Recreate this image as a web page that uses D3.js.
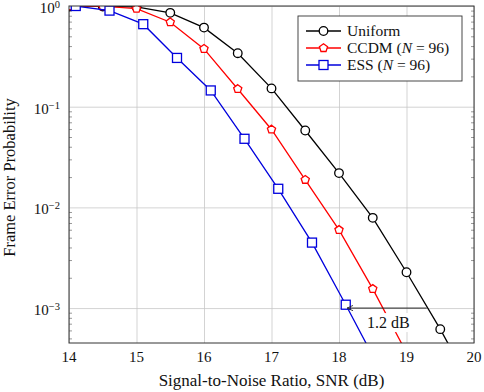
<!DOCTYPE html>
<html>
<head>
<meta charset="utf-8">
<script src="https://cdn.jsdelivr.net/npm/d3@7"></script>
<style>
  body { margin: 0; background: #fff; }
  svg text { font-family: "Liberation Serif", "DejaVu Serif", serif; fill: #111; }
</style>
</head>
<body>
<div id="chart"></div>
<script>
// SNR points (dB)
const snrUniform = [14, 14.5, 15, 15.5, 16, 16.5, 17, 17.5, 18, 18.5, 19, 19.5, 20];
const ferUniform = [0.99, 0.99, 0.98, 0.855, 0.61, 0.34, 0.152, 0.058, 0.0219, 0.00787, 0.00227, 0.000618, 0.00015];

const snrCcdm = [14, 14.5, 15, 15.5, 16, 16.5, 17, 17.5, 18, 18.5, 19];
const ferCcdm = [0.995, 0.995, 0.94, 0.69, 0.375, 0.15, 0.0594, 0.0188, 0.00597, 0.00155, 0.00036];

const snrEss = [14.1, 14.6, 15.1, 15.6, 16.1, 16.6, 17.1, 17.6, 18.1, 18.6];
const ferEss = [1.0, 0.9, 0.66, 0.305, 0.145, 0.048, 0.0153, 0.00447, 0.00108, 0.00025];

const xTicks = [14, 15, 16, 17, 18, 19, 20];
const yTicks = [1, 0.1, 0.01, 0.001];
const yExponents = ["0", "\u22121", "\u22122", "\u22123"];

const series = [
    { name: "Uniform", x: snrUniform, y: ferUniform, color: "#000000", marker: "circle" },
    { name: "CCDM", x: snrCcdm, y: ferCcdm, color: "#ff0000", marker: "pentagon" },
    { name: "ESS", x: snrEss, y: ferEss, color: "#0000dd", marker: "square" }
];

const width = 484, height = 392;
const margin = { left: 69, right: 10, top: 6, bottom: 49 };
const w = width - margin.left - margin.right;
const h = height - margin.top - margin.bottom;

const svg = d3.select("#chart").append("svg")
    .attr("width", width)
    .attr("height", height);

const plot = svg.append("g")
    .attr("transform", `translate(${margin.left},${margin.top})`);

const xScale = d3.scaleLinear().domain([14, 20]).range([0, w]);
const yScale = d3.scaleLog().domain([4.5e-4, 1]).range([h, 0]);

plot.append("clipPath").attr("id", "clip")
    .append("rect").attr("width", w).attr("height", h);

// grid
plot.append("g")
    .attr("transform", `translate(0,${h})`)
    .call(d3.axisBottom(xScale).tickValues(xTicks).tickSize(-h).tickFormat(""))
    .call(g => g.select(".domain").remove())
    .selectAll("line").attr("stroke", "#c8c8c8").attr("stroke-width", 0.8);

plot.append("g")
    .call(d3.axisLeft(yScale).tickValues(yTicks).tickSize(-w).tickFormat(""))
    .call(g => g.select(".domain").remove())
    .selectAll("line").attr("stroke", "#c8c8c8").attr("stroke-width", 0.8);

// minor ticks on y (inside, both sides)
const minor = [];
for (let e = -4; e <= 0; e++) {
    for (let m = 2; m <= 9; m++) {
        const v = m * Math.pow(10, e);
        if (v >= 4.5e-4 && v <= 1) minor.push(v);
    }
}
plot.append("g")
    .call(d3.axisLeft(yScale).tickValues(minor).tickSize(-3).tickFormat(""))
    .call(g => g.select(".domain").remove())
    .selectAll("line").attr("stroke", "#555").attr("stroke-width", 0.6);
plot.append("g")
    .attr("transform", `translate(${w},0)`)
    .call(d3.axisRight(yScale).tickValues(minor).tickSize(-3).tickFormat(""))
    .call(g => g.select(".domain").remove())
    .selectAll("line").attr("stroke", "#555").attr("stroke-width", 0.6);

// tick labels
plot.append("g").selectAll("text")
    .data(xTicks).join("text")
    .attr("x", d => xScale(d))
    .attr("y", h + 19)
    .attr("text-anchor", "middle")
    .style("font-size", "15px")
    .text(d => d);

const yLab = plot.append("g").selectAll("text")
    .data(yTicks).join("text")
    .attr("x", -9)
    .attr("y", d => yScale(d) + 7)
    .attr("text-anchor", "end")
    .style("font-size", "15px");
yLab.append("tspan").text("10");
yLab.append("tspan")
    .attr("dy", -5)
    .style("font-size", "10.5px")
    .text((d, i) => yExponents[i]);

// series
const lines = plot.append("g").attr("clip-path", "url(#clip)");
const lineGen = d3.line().x(d => xScale(d[0])).y(d => yScale(d[1]));

function pentagon(r) {
    const pts = [];
    for (let i = 0; i < 5; i++) {
        const a = -Math.PI / 2 + i * 2 * Math.PI / 5;
        pts.push([r * Math.cos(a), r * Math.sin(a)]);
    }
    return "M" + pts.map(p => p.join(",")).join("L") + "Z";
}

function drawMarker(g, type, color) {
    if (type === "circle") {
        g.append("circle").attr("r", 4.3);
    } else if (type === "pentagon") {
        g.append("path").attr("d", pentagon(4.3));
    } else {
        g.append("rect").attr("x", -4.5).attr("y", -4.5).attr("width", 9).attr("height", 9);
    }
    g.selectAll("*").attr("fill", "#fff").attr("stroke", color).attr("stroke-width", 1.3);
}

series.forEach(s => {
    const pts = s.x.map((x, i) => [x, s.y[i]]);
    lines.append("path")
        .datum(pts)
        .attr("fill", "none")
        .attr("stroke", s.color)
        .attr("stroke-width", 1.3)
        .attr("d", lineGen);
    lines.selectAll(null)
        .data(pts).join("g")
        .attr("transform", d => `translate(${xScale(d[0])},${yScale(d[1])})`)
        .each(function () { drawMarker(d3.select(this), s.marker, s.color); });
});

// annotation: 1.2 dB gap at 1e-3
const annY = yScale(0.001);
plot.append("defs").append("marker")
    .attr("id", "arrow")
    .attr("viewBox", "0 0 10 10")
    .attr("refX", 9).attr("refY", 5)
    .attr("markerWidth", 7).attr("markerHeight", 7)
    .attr("orient", "auto")
    .append("path")
    .attr("d", "M0,1 L9,5 L0,9")
    .attr("fill", "none")
    .attr("stroke", "#222")
    .attr("stroke-width", 1.2);
plot.append("line")
    .attr("x1", xScale(19.3)).attr("x2", xScale(18.12))
    .attr("y1", annY).attr("y2", annY)
    .attr("stroke", "#222")
    .attr("stroke-width", 1)
    .attr("marker-end", "url(#arrow)");
plot.append("rect")
    .attr("x", xScale(18.73) - 26).attr("y", annY + 5)
    .attr("width", 52).attr("height", 19)
    .attr("fill", "#fff");
plot.append("text")
    .attr("x", xScale(18.73))
    .attr("y", annY + 20)
    .attr("text-anchor", "middle")
    .style("font-size", "16px")
    .text("1.2 dB");

// frame
plot.append("rect")
    .attr("width", w).attr("height", h)
    .attr("fill", "none")
    .attr("stroke", "#333")
    .attr("stroke-width", 1);

// legend
const legend = plot.append("g").attr("transform", `translate(${298 - margin.left},${16 - margin.top})`);
legend.append("rect")
    .attr("width", 164).attr("height", 65)
    .attr("fill", "#fff")
    .attr("stroke", "#333")
    .attr("stroke-width", 0.9);
const legendLabels = [
    [{ t: "Uniform" }],
    [{ t: "CCDM (" }, { t: "N", i: true }, { t: " = 96)" }],
    [{ t: "ESS (" }, { t: "N", i: true }, { t: " = 96)" }]
];
series.forEach((s, k) => {
    const row = legend.append("g").attr("transform", `translate(0,${15 + k * 17})`);
    row.append("line")
        .attr("x1", 8).attr("x2", 43)
        .attr("stroke", s.color).attr("stroke-width", 1.3);
    drawMarker(row.append("g").attr("transform", "translate(25.5,0)"), s.marker, s.color);
    const t = row.append("text")
        .attr("x", 49).attr("y", 5)
        .style("font-size", "15.5px");
    legendLabels[k].forEach(p => {
        t.append("tspan").style("font-style", p.i ? "italic" : "normal").text(p.t);
    });
});

// axis titles
svg.append("text")
    .attr("x", margin.left + w / 2)
    .attr("y", 386)
    .attr("text-anchor", "middle")
    .style("font-size", "17px")
    .text("Signal-to-Noise Ratio, SNR (dB)");

svg.append("text")
    .attr("transform", `translate(14.5,${margin.top + h / 2 + 3}) rotate(-90)`)
    .attr("text-anchor", "middle")
    .style("font-size", "16.5px")
    .text("Frame Error Probability");
</script>
</body>
</html>
